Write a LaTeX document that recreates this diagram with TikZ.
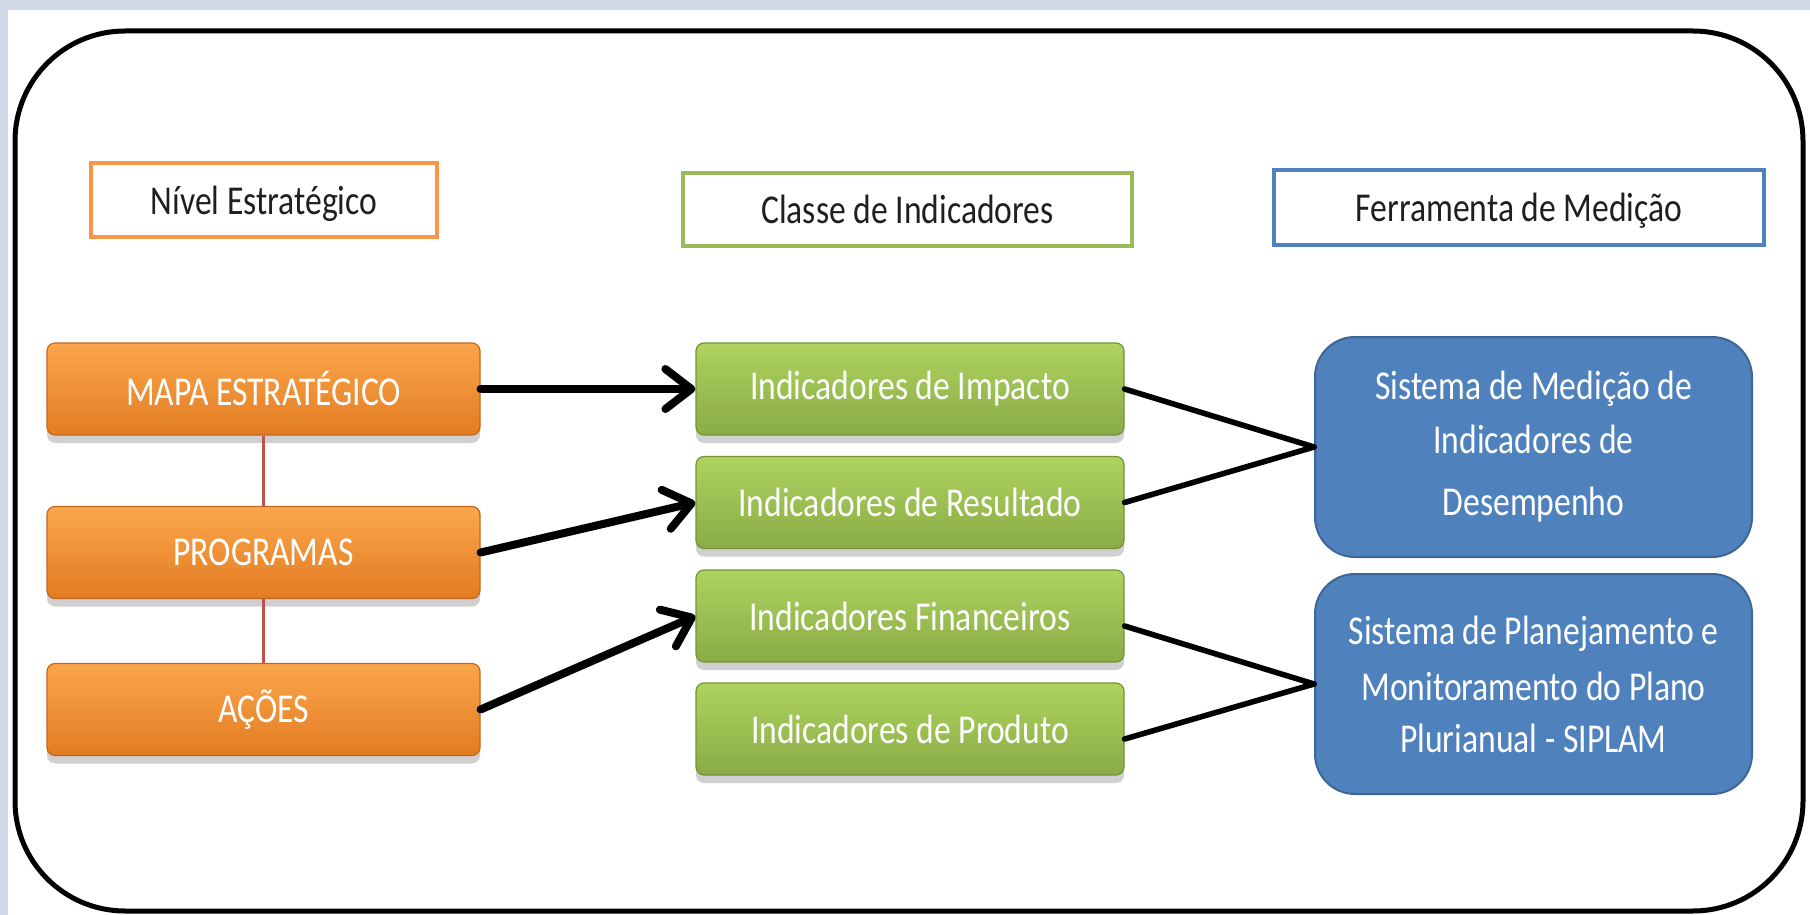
\documentclass[tikz,border=0pt]{standalone}
\usepackage{fontspec}
\setmainfont{Carlito}[FakeStretch=0.82]
\usetikzlibrary{arrows.meta,shadows,calc}
\definecolor{bgband}{HTML}{D0D8E6}
\definecolor{orA}{HTML}{FBA64B}
\definecolor{orB}{HTML}{E27C22}
\definecolor{orLine}{HTML}{F79646}
\definecolor{grA}{HTML}{AED35F}
\definecolor{grB}{HTML}{8AAB46}
\definecolor{grLine}{HTML}{9BBB59}
\definecolor{blFill}{HTML}{4F81BD}
\definecolor{blLine}{HTML}{3C6696}
\definecolor{redLink}{HTML}{C0504D}
\definecolor{hdText}{HTML}{1F1F1F}
\begin{document}
\begin{tikzpicture}[x=0.5pt,y=-0.5pt,
  every node/.style={font=\fontsize{20.5}{28}\selectfont},
  header/.style={draw, line width=2pt, fill=white, inner sep=0pt, text=hdText,
    text height=15pt, text depth=1pt},
  flatbox/.style={rounded corners=4pt, line width=0.6pt, text=white, inner sep=0pt,
    minimum height=46pt,
    drop shadow={shadow xshift=0pt, shadow yshift=-4pt, opacity=0.3, fill=black!60}},
  obox/.style={flatbox, top color=orA, bottom color=orB, draw=orB!85!black, minimum width=216.5pt},
  gbox/.style={flatbox, top color=grA, bottom color=grB, draw=grB!85!black, minimum width=214pt},
  bbox/.style={rounded corners=20pt, fill=blFill, draw=blLine, line width=1pt, text=white,
    inner sep=0pt, align=center, minimum width=218.5pt, minimum height=110pt},
  arr/.style={line width=4pt, line cap=round, -{Straight Barb[length=13pt,width=20pt,round]}},
  link/.style={line width=2.8pt, line cap=round},
  vlink/.style={line width=1.5pt, draw=redLink}
]
\useasboundingbox (0,0) rectangle (1810,915);
\fill[bgband] (0,0) rectangle (1810,915);
\fill[white] (8,10) rectangle (1810,915);
\draw[line width=2.5pt, rounded corners=55pt] (15,31) rectangle (1803,911);

% headers
\node[header, draw=orLine, minimum width=173pt, minimum height=37pt] (hniv) at (264,200) {Nível Estratégico};
\node[header, draw=grLine, minimum width=224.5pt, minimum height=36.5pt] (hcla) at (907.5,209.5) {Classe de Indicadores};
\node[header, draw=blFill, minimum width=245pt, minimum height=37.5pt] (hfer) at (1519,207.5) {Ferramenta de Medição};

% orange column
\node[obox] (mapa) at (263.5,389) {MAPA ESTRATÉGICO};
\node[obox] (prog) at (263.5,552.5) {PROGRAMAS};
\node[obox] (acoes) at (263.5,709.5) {AÇÕES};

% green column
\node[gbox] (imp) at (910,389) {Indicadores de Impacto};
\node[gbox] (res) at (910,502.5) {Indicadores de Resultado};
\node[gbox] (fin) at (910,616) {Indicadores Financeiros};
\node[gbox] (prod) at (910,729) {Indicadores de Produto};

% blue column
\node[bbox] (smi) at (1533.5,447) {\raisebox{-4pt}{Sistema de Medição de}\\[-1pt]\raisebox{-4pt}{Indicadores de}\\[3pt]\raisebox{-4pt}{Desempenho}};
\node[bbox] (sip) at (1533.5,684) {Sistema de Planejamento e\\Monitoramento do Plano\\[-2pt]Plurianual - SIPLAM};

% vertical links
\draw[vlink] (mapa.south) -- (prog.north);
\draw[vlink] (prog.south) -- (acoes.north);

% arrows
\draw[arr] (mapa.east) -- (imp.west);
\draw[arr] (prog.east) -- (res.west);
\draw[arr] (acoes.east) -- (fin.west);

% lines to tools
\draw[link] (imp.east) -- (smi.west);
\draw[link] (res.east) -- (smi.west);
\draw[link] ($(fin.east)+(0,10)$) -- (sip.west);
\draw[link] ($(prod.east)+(0,10)$) -- (sip.west);
\end{tikzpicture}
\end{document}
